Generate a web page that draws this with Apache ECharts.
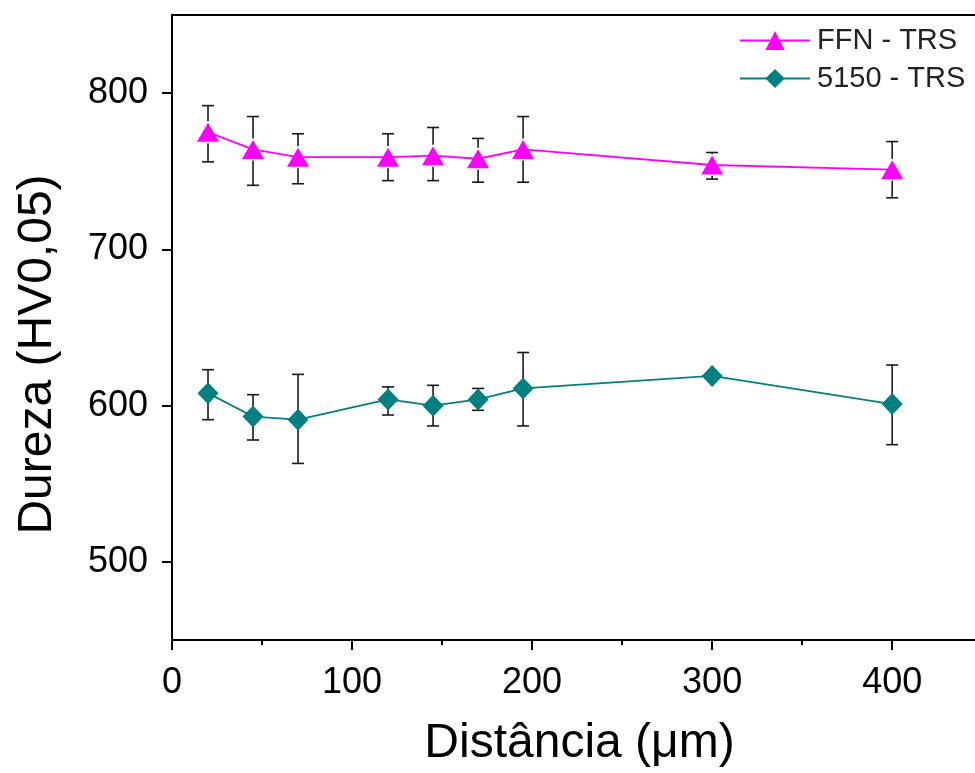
<!DOCTYPE html>
<html>
<head>
<meta charset="utf-8">
<script src="https://cdn.jsdelivr.net/npm/echarts@6/dist/echarts.min.js"></script>
<style>
html,body{margin:0;padding:0;background:#fff;}
#chart{width:975px;height:773px;}
</style>
</head>
<body>
<div id="chart"></div>
<script>
// Hardness profile vs. distance from surface
const distances = [20, 45, 70, 120, 145, 170, 195, 300, 400];

const ffnMean  = [775, 764, 759, 759, 760, 758, 764, 754, 751];
const ffnUpper = [792, 785, 774, 774, 778, 771, 785, 762, 769];
const ffnLower = [756, 741, 742, 744, 744, 743, 743, 745, 733];

const s5150Mean  = [608, 593, 591, 604, 600, 604, 611, 619, 601];
const s5150Upper = [623, 607, 620, 612, 613, 611, 634, 621, 626];
const s5150Lower = [591, 578, 563, 594, 587, 597, 587, 617, 575];

const xTicks = [0, 100, 200, 300, 400];
const yTicks = [500, 600, 700, 800];

const FFN_COLOR = '#ff00ff';
const S5150_COLOR = '#008080';
const FONT = 'Liberation Sans, Arial, sans-serif';
const X_MAX = 446;

function pairs(xs, ys) { return xs.map((x, i) => [x, ys[i]]); }
function barRows(xs, lo, hi) { return xs.map((x, i) => [x, lo[i], hi[i]]); }

// Error bars; gap (px) leaves room around the marker
function errorBarRenderer(gap) {
  return function (params, api) {
    const x = api.value(0);
    const lo = api.coord([x, api.value(1)]);
    const hi = api.coord([x, api.value(2)]);
    const cap = 6;
    const style = { stroke: '#1a1a1a', lineWidth: 1.6 };
    const children = [
      { type: 'line', shape: { x1: hi[0] - cap, y1: hi[1], x2: hi[0] + cap, y2: hi[1] }, style },
      { type: 'line', shape: { x1: lo[0] - cap, y1: lo[1], x2: lo[0] + cap, y2: lo[1] }, style }
    ];
    if (gap > 0) {
      const c = api.coord([x, api.value(3)]);
      if (c[1] - gap > hi[1]) children.push({ type: 'line', shape: { x1: hi[0], y1: hi[1], x2: hi[0], y2: c[1] - gap }, style });
      if (c[1] + gap < lo[1]) children.push({ type: 'line', shape: { x1: lo[0], y1: c[1] + gap, x2: lo[0], y2: lo[1] }, style });
    } else {
      children.push({ type: 'line', shape: { x1: hi[0], y1: hi[1], x2: lo[0], y2: lo[1] }, style });
    }
    return { type: 'group', children };
  };
}

const tickLine = { color: '#000', width: 2 };

const chart = echarts.init(document.getElementById('chart'), null, { renderer: 'canvas' });

chart.setOption({
  animation: false,
  backgroundColor: '#ffffff',
  grid: { left: 172, right: 0, top: 15, bottom: 133 },
  legend: {
    orient: 'vertical',
    left: 734, top: 21,
    itemWidth: 70, itemHeight: 24, itemGap: 9,
    textStyle: { fontFamily: FONT, fontSize: 29, lineHeight: 24, color: '#222', padding: [0, 0, 0, 2] },
    data: ['FFN - TRS', '5150 - TRS']
  },
  xAxis: [
    {
      type: 'value', min: 0, max: X_MAX, interval: 100,
      name: 'Distância (μm)', nameLocation: 'middle', nameGap: 80,
      nameTextStyle: { fontFamily: FONT, fontSize: 48, color: '#000', padding: [0, 0, 0, 12] },
      axisLine: { show: true, lineStyle: tickLine },
      axisTick: { show: true, length: 10, lineStyle: tickLine, customValues: xTicks },
      minorTick: { show: true, splitNumber: 2, length: 5, lineStyle: tickLine },
      axisLabel: { fontFamily: FONT, fontSize: 36, color: '#000', margin: 25, customValues: xTicks },
      splitLine: { show: false }
    },
    {
      // top frame line
      type: 'value', position: 'top', min: 0, max: X_MAX,
      axisLine: { show: true, lineStyle: tickLine },
      axisTick: { show: false }, axisLabel: { show: false }, splitLine: { show: false }
    }
  ],
  yAxis: {
    type: 'value', min: 450, max: 850, interval: 100,
    name: 'Dureza (HV0,05)', nameLocation: 'middle', nameGap: 110,
    nameTextStyle: { fontFamily: FONT, fontSize: 48, color: '#000', padding: [0, 54, 0, 0] },
    axisLine: { show: true, lineStyle: tickLine },
    axisTick: { show: true, length: 10, lineStyle: tickLine, customValues: yTicks },
    minorTick: { show: true, splitNumber: 2, length: 5, lineStyle: tickLine },
    axisLabel: { fontFamily: FONT, fontSize: 36, color: '#000', margin: 24, customValues: yTicks },
    splitLine: { show: false }
  },
  series: [
    {
      name: 'FFN - TRS bars', type: 'custom', z: 1,
      renderItem: errorBarRenderer(11),
      encode: { x: 0, y: [1, 2] },
      data: distances.map((x, i) => [x, ffnLower[i], ffnUpper[i], ffnMean[i]])
    },
    {
      name: '5150 - TRS bars', type: 'custom', z: 1,
      renderItem: errorBarRenderer(0),
      encode: { x: 0, y: [1, 2] },
      data: barRows(distances, s5150Lower, s5150Upper)
    },
    {
      name: 'FFN - TRS', type: 'line', z: 3,
      data: pairs(distances, ffnMean),
      symbol: 'triangle', symbolSize: [22, 19],
      lineStyle: { color: FFN_COLOR, width: 1.8 },
      itemStyle: { color: FFN_COLOR, borderWidth: 0 }
    },
    {
      name: '5150 - TRS', type: 'line', z: 3,
      data: pairs(distances, s5150Mean),
      symbol: 'diamond', symbolSize: [21, 22],
      lineStyle: { color: S5150_COLOR, width: 1.8 },
      itemStyle: { color: S5150_COLOR, borderWidth: 0 }
    }
  ]
});
</script>
</body>
</html>
